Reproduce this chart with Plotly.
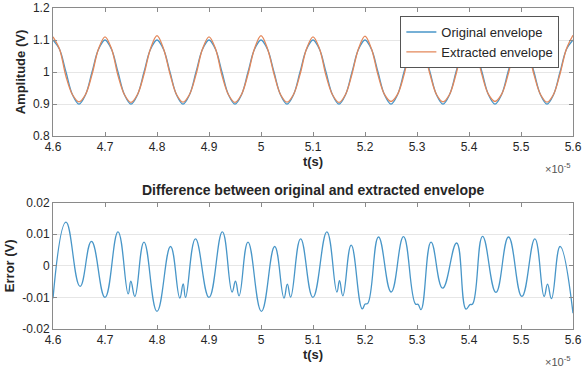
import plotly.graph_objects as go

# ---- data (time in units of 1e-5 s) ----
t_env = [4.6000, 4.6125, 4.6250, 4.6375, 4.6500, 4.6625, 4.6750, 4.6875,
         4.7000, 4.7125, 4.7250, 4.7375, 4.7500, 4.7625, 4.7750, 4.7875,
         4.8000, 4.8125, 4.8250, 4.8375, 4.8500, 4.8625, 4.8750, 4.8875,
         4.9000, 4.9125, 4.9250, 4.9375, 4.9500, 4.9625, 4.9750, 4.9875,
         5.0000, 5.0125, 5.0250, 5.0375, 5.0500, 5.0625, 5.0750, 5.0875,
         5.1000, 5.1125, 5.1250, 5.1375, 5.1500, 5.1625, 5.1750, 5.1875,
         5.2000, 5.2125, 5.2250, 5.2375, 5.2500, 5.2625, 5.2750, 5.2875,
         5.3000, 5.3125, 5.3250, 5.3375, 5.3500, 5.3625, 5.3750, 5.3875,
         5.4000, 5.4125, 5.4250, 5.4375, 5.4500, 5.4625, 5.4750, 5.4875,
         5.5000, 5.5125, 5.5250, 5.5375, 5.5500, 5.5625, 5.5750, 5.5875,
         5.6000]
original_env = [1.100, 1.071, 1.000, 0.929, 0.900, 0.929, 1.000, 1.071,
                1.100, 1.071, 1.000, 0.929, 0.900, 0.929, 1.000, 1.071,
                1.100, 1.071, 1.000, 0.929, 0.900, 0.929, 1.000, 1.071,
                1.100, 1.071, 1.000, 0.929, 0.900, 0.929, 1.000, 1.071,
                1.100, 1.071, 1.000, 0.929, 0.900, 0.929, 1.000, 1.071,
                1.100, 1.071, 1.000, 0.929, 0.900, 0.929, 1.000, 1.071,
                1.100, 1.071, 1.000, 0.929, 0.900, 0.929, 1.000, 1.071,
                1.100, 1.071, 1.000, 0.929, 0.900, 0.929, 1.000, 1.071,
                1.100, 1.071, 1.000, 0.929, 0.900, 0.929, 1.000, 1.071,
                1.100, 1.071, 1.000, 0.929, 0.900, 0.929, 1.000, 1.071,
                1.100]
extracted_env = [1.110, 1.072, 0.986, 0.929, 0.907, 0.930, 0.992, 1.072,
                 1.110, 1.073, 0.989, 0.929, 0.905, 0.930, 0.993, 1.073,
                 1.114, 1.073, 0.994, 0.930, 0.906, 0.930, 0.992, 1.072,
                 1.110, 1.073, 0.989, 0.929, 0.905, 0.930, 0.993, 1.073,
                 1.114, 1.073, 0.994, 0.930, 0.906, 0.930, 0.992, 1.072,
                 1.110, 1.073, 0.989, 0.929, 0.905, 0.930, 0.994, 1.073,
                 1.112, 1.072, 0.991, 0.930, 0.908, 0.930, 0.991, 1.073,
                 1.113, 1.072, 0.993, 0.930, 0.907, 0.930, 0.993, 1.073,
                 1.113, 1.072, 0.991, 0.930, 0.908, 0.930, 0.991, 1.072,
                 1.110, 1.072, 0.992, 0.930, 0.906, 0.930, 0.994, 1.073,
                 1.115]

t_err = [4.600, 4.625, 4.652, 4.674, 4.700, 4.725, 4.7446, 4.7497, 4.7574, 4.775,
         4.800, 4.826, 4.8438, 4.8503, 4.8549, 4.874, 4.900, 4.9257, 4.9444, 4.9509,
         4.9578, 4.975, 5.0008, 5.0263, 5.0442, 5.0507, 5.057, 5.0762, 5.0998, 5.1267,
         5.1459, 5.151, 5.1574, 5.1735, 5.1946, 5.2004, 5.2054, 5.226, 5.2503, 5.274,
         5.297, 5.302, 5.3078, 5.327, 5.3493, 5.3762, 5.3942, 5.4019, 5.407, 5.4261,
         5.4518, 5.476, 5.5017, 5.5267, 5.5445, 5.551, 5.5586, 5.5752, 5.600]
error_v = [-0.0103, 0.0138, -0.0065, 0.0077, -0.0100, 0.0107, -0.0089, -0.0049, -0.0097, 0.0075,
           -0.0144, 0.0061, -0.0102, -0.0057, -0.0100, 0.0085, -0.0100, 0.0107, -0.0083, -0.0049,
           -0.0095, 0.0075, -0.0144, 0.0061, -0.0102, -0.0058, -0.0099, 0.0085, -0.0100, 0.0107,
           -0.0083, -0.0047, -0.0095, 0.0065, -0.0136, -0.0121, -0.0119, 0.0091, -0.0083, 0.0092,
           -0.0121, -0.0122, -0.0139, 0.0075, -0.0071, 0.0072, -0.0137, -0.0123, -0.0121, 0.0093,
           -0.0084, 0.0091, -0.0097, 0.0085, -0.0097, -0.0058, -0.0104, 0.0061, -0.0150]

x_ticks = [4.6, 4.7, 4.8, 4.9, 5.0, 5.1, 5.2, 5.3, 5.4, 5.5, 5.6]
x_tick_labels = ["4.6", "4.7", "4.8", "4.9", "5", "5.1", "5.2", "5.3", "5.4", "5.5", "5.6"]
y1_ticks = [0.8, 0.9, 1.0, 1.1, 1.2]
y1_tick_labels = ["0.8", "0.9", "1", "1.1", "1.2"]
y2_ticks = [-0.02, -0.01, 0.0, 0.01, 0.02]
y2_tick_labels = ["-0.02", "-0.01", "0", "0.01", "0.02"]

BLUE = "#4896c8"
ORANGE = "#e3875a"
FONT = "Liberation Sans, Arial, sans-serif"
AXC = "#8a8a8a"
TXT = "#262626"

fig = go.Figure()
fig.add_trace(go.Scatter(x=t_env, y=original_env, mode="lines", name="Original envelope",
                         line=dict(color=BLUE, width=1.3, shape="spline", smoothing=1.0),
                         xaxis="x", yaxis="y"))
fig.add_trace(go.Scatter(x=t_env, y=extracted_env, mode="lines", name="Extracted envelope",
                         line=dict(color=ORANGE, width=1.3, shape="spline", smoothing=1.0),
                         xaxis="x", yaxis="y"))
fig.add_trace(go.Scatter(x=t_err, y=error_v, mode="lines", showlegend=False,
                         line=dict(color=BLUE, width=1.3, shape="spline", smoothing=1.3),
                         xaxis="x2", yaxis="y2"))

common_x = dict(range=[4.6, 5.6], tickvals=x_ticks, ticktext=x_tick_labels,
                showline=True, linecolor=AXC, linewidth=1, mirror="ticks",
                ticks="inside", ticklen=4, tickcolor=AXC, showgrid=False, zeroline=False,
                automargin=False, ticklabeloverflow="allow",
                tickfont=dict(family=FONT, size=12, color=TXT),
                title=dict(text="<b>t(s)</b>", font=dict(family=FONT, size=13, color=TXT), standoff=2))
common_y = dict(showline=True, linecolor=AXC, linewidth=1, mirror="ticks",
                ticks="inside", ticklen=4, tickcolor=AXC, showgrid=True, gridcolor="#e6e6e6",
                zeroline=False, automargin=False, tickfont=dict(family=FONT, size=12, color=TXT))

fig.update_layout(
    width=582, height=370,
    margin=dict(l=53, r=9, t=8, b=41),
    paper_bgcolor="white", plot_bgcolor="white",
    font=dict(family=FONT, color=TXT),
    xaxis=dict(common_x, domain=[0, 1], anchor="y"),
    yaxis=dict(common_y, domain=[0.601, 1.0], anchor="x", range=[0.8, 1.2],
               tickvals=y1_ticks, ticktext=y1_tick_labels,
               title=dict(text="<b>Amplitude (V)</b>", font=dict(family=FONT, size=13, color=TXT), standoff=4)),
    xaxis2=dict(common_x, domain=[0, 1], anchor="y2"),
    yaxis2=dict(common_y, domain=[0.0, 0.394], anchor="x2", range=[-0.02, 0.02],
                tickvals=y2_ticks, ticktext=y2_tick_labels,
                title=dict(text="<b>Error (V)</b>", font=dict(family=FONT, size=13, color=TXT), standoff=4)),
    legend=dict(x=0.668, y=0.975, xanchor="left", yanchor="top",
                bgcolor="white", bordercolor="#555555", borderwidth=1,
                font=dict(family=FONT, size=13, color=TXT),
                tracegroupgap=0, itemwidth=30),
    showlegend=True,
    annotations=[
        dict(text="<b>Difference between original and extracted envelope</b>",
             xref="paper", yref="paper", x=0.5, y=0.433, xanchor="center", yanchor="middle",
             showarrow=False, font=dict(family=FONT, size=14, color=TXT)),
        dict(text="×10<sup>-5</sup>", xref="paper", yref="paper", x=1.0, y=0.601,
             xanchor="right", yanchor="middle", yshift=-32, showarrow=False,
             font=dict(family=FONT, size=11, color="#555555")),
        dict(text="×10<sup>-5</sup>", xref="paper", yref="paper", x=1.0, y=0.0,
             xanchor="right", yanchor="middle", yshift=-32, showarrow=False,
             font=dict(family=FONT, size=11, color="#555555")),
    ],
)

fig.write_html("out.html", config={"displayModeBar": False},
               post_script="document.body.style.margin='0';document.body.style.padding='0';")
